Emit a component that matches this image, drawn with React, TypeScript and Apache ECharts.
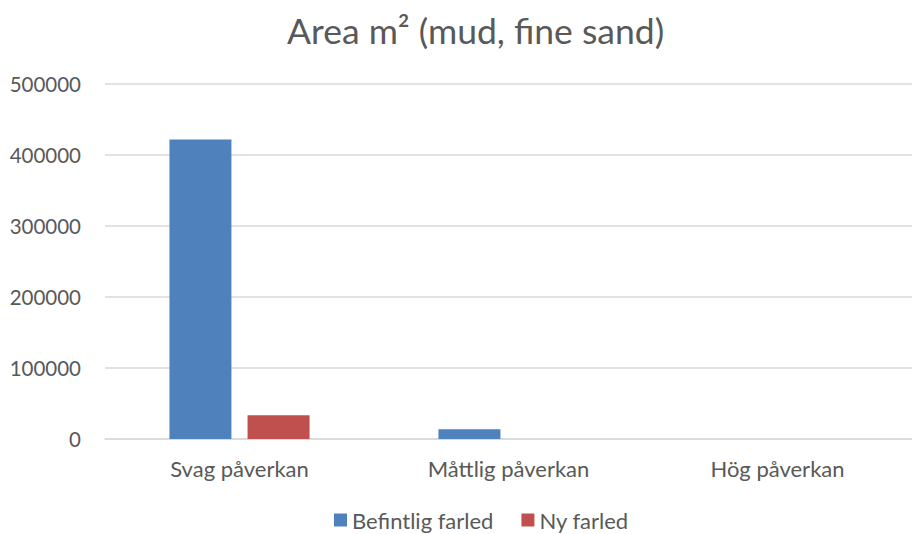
import React, { useEffect, useRef } from "react";
import * as echarts from "echarts";

const categories = ["Svag påverkan", "Måttlig påverkan", "Hög påverkan"];
const befintligFarled = [422000, 13700, 0];
const nyFarled = [33500, 0, 0];
const seriesNames = ["Befintlig farled", "Ny farled"];
const titleText = "Area m² (mud, fine sand)";

const FONT = "Lato, 'Open Sans', sans-serif";
const TEXT = "#595959";

export default function App() {
  const ref = useRef<HTMLDivElement>(null);
  useEffect(() => {
    if (!ref.current) return;
    const chart = echarts.init(ref.current, null, { renderer: "svg" });
    chart.setOption({
      animation: false,
      backgroundColor: "#ffffff",
      title: {
        text: titleText,
        left: 282,
        top: 7,
        textStyle: { fontFamily: FONT, fontSize: 35.5, fontWeight: "normal", color: TEXT },
      },
      legend: {
        data: seriesNames,
        bottom: -2,
        left: 329,
        itemWidth: 13,
        itemHeight: 13,
        itemGap: 28,
        icon: "rect",
        textStyle: { fontFamily: FONT, fontSize: 22, color: TEXT },
      },
      grid: { left: 105, right: -11, top: 84, bottom: 95 },
      xAxis: {
        type: "category",
        data: categories,
        axisLine: { show: true, lineStyle: { color: "#d9d9d9", width: 1.5 } },
        axisTick: { show: false },
        axisLabel: { fontFamily: FONT, fontSize: 22, color: TEXT, margin: 18 },
      },
      yAxis: {
        type: "value",
        min: 0,
        max: 500000,
        interval: 100000,
        axisLine: { show: false },
        axisTick: { show: false },
        splitLine: { lineStyle: { color: "#d9d9d9", width: 1.5 } },
        axisLabel: {
          fontFamily: FONT,
          fontSize: 20.5,
          color: TEXT,
          margin: 24,
          formatter: (v: number) => String(v),
        },
      },
      series: [
        {
          name: seriesNames[0],
          type: "bar",
          data: befintligFarled,
          itemStyle: { color: "#4F81BD" },
          barWidth: 62,
          barGap: "26%",
        },
        {
          name: seriesNames[1],
          type: "bar",
          data: nyFarled,
          itemStyle: { color: "#C0504D" },
          barWidth: 62,
          barGap: "26%",
        },
      ],
    });
    return () => chart.dispose();
  }, []);
  return <div ref={ref} style={{ width: 912, height: 534, position: "absolute", left: 0, top: 0, overflow: "hidden" }} />;
}
